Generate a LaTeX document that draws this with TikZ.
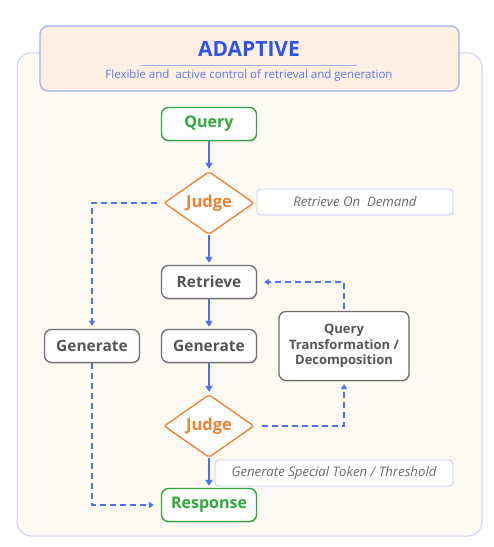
\documentclass[tikz,border=0pt]{standalone}
\usepackage{fontspec}
\setmainfont{Open Sans}
\usetikzlibrary{shapes.geometric,arrows.meta,shadows}
\definecolor{flowblue}{HTML}{4D6FF5}
\definecolor{judgeorange}{HTML}{F07F2E}
\definecolor{termgreen}{HTML}{2FA83A}
\definecolor{procborder}{HTML}{6E6E6E}
\definecolor{proctext}{HTML}{555555}
\definecolor{panelfill}{HTML}{FDF9F3}
\definecolor{panelborder}{HTML}{CBD3F7}
\definecolor{headerfill}{HTML}{FDF0E3}
\definecolor{headerborder}{HTML}{9EAEF2}
\definecolor{titleblue}{HTML}{2D55E8}
\definecolor{subblue}{HTML}{5A76E8}
\definecolor{tagborder}{HTML}{BBC7F5}
\definecolor{tagtext}{HTML}{6A6A6A}
\tikzset{
  softshadow/.style={drop shadow={shadow xshift=0.6bp,shadow yshift=-1.2bp,opacity=0.15,fill=black}},
  termbox/.style={draw=termgreen,line width=1.4bp,fill=white,rounded corners=7bp,minimum width=95bp,minimum height=33bp,inner sep=0,text=termgreen,font=\fontsize{16bp}{18bp}\selectfont\bfseries,softshadow},
  procbox/.style={draw=procborder,line width=1.3bp,fill=white,rounded corners=7bp,minimum width=95bp,minimum height=33bp,inner sep=0,text=proctext,font=\fontsize{15.5bp}{18bp}\selectfont\bfseries,softshadow},
  judgebox/.style={diamond,aspect=1.43,draw=judgeorange,line width=1.3bp,fill=white,rounded corners=2bp,minimum width=90bp,minimum height=63bp,inner sep=0,text=judgeorange,font=\fontsize{16.5bp}{18bp}\selectfont\bfseries},
  tagbox/.style={draw=tagborder,line width=0.8bp,fill=white,rounded corners=4bp,minimum height=26bp,inner sep=0,text=tagtext,font=\fontsize{13.2bp}{15bp}\selectfont\itshape},
  flow/.style={draw=flowblue,line width=2bp,-{Triangle[length=6bp,width=7bp]},shorten >=2bp},
  dflow/.style={draw=flowblue,line width=1.6bp,dash pattern=on 6bp off 4bp,-{Triangle[length=5bp,width=6bp]}}
}
\begin{document}
\begin{tikzpicture}[x=1bp,y=-1bp]
\useasboundingbox (0,0) rectangle (494,547);
\fill[white] (0,0) rectangle (494,547);
\draw[draw=panelborder,fill=panelfill,line width=1bp,rounded corners=14bp] (17,53) rectangle (482,536);
\draw[draw=headerborder,fill=headerfill,line width=1.2bp,rounded corners=8bp] (40,26) rectangle (459,91);
\node[text=titleblue,font=\fontsize{21bp}{24bp}\selectfont\bfseries,inner sep=0] (title) at (249,49) {ADAPTIVE};
\draw[draw=headerborder,line width=0.8bp] (141,65.5) -- (357,65.5);
\node[text=subblue,font=\fontsize{11.5bp}{13bp}\selectfont,inner sep=0] (sub) at (249,75) {Flexible and \ active control of retrieval and generation};

\node[termbox] (query) at (209,124) {Query};
\node[judgebox] (j1) at (209,203) {Judge};
\node[tagbox,minimum width=196bp] (rod) at (355,202) {Retrieve On \ Demand};
\node[procbox] (ret) at (209,282) {Retrieve};
\node[procbox] (gen1) at (92,346) {Generate};
\node[procbox] (gen2) at (209,346) {Generate};
\node[procbox,minimum width=130bp,minimum height=69bp,align=center,font=\fontsize{13bp}{15.5bp}\selectfont\bfseries] (qt) at (344,346) {Query\\Transformation /\\Decomposition};
\node[judgebox] (j2) at (209,426) {Judge};
\node[tagbox,minimum width=238bp] (gst) at (334,473) {Generate Special Token / Threshold};
\node[termbox] (resp) at (209,505) {Response};

\draw[flow] (query) -- (j1);
\draw[flow] (j1) -- (ret);
\draw[flow] (ret) -- (gen2);
\draw[flow] (gen2) -- (j2);
\draw[flow] (j2) -- (resp);

\draw[dflow,shorten <=6bp,shorten >=3bp] (j1.west) -| (gen1.north);
\draw[dflow,shorten >=7bp] (gen1.south) |- (resp.west);
\draw[dflow,shorten <=7bp,shorten >=3bp] (j2.east) -| (qt.south);
\draw[dflow,shorten <=2bp,shorten >=7bp] (qt.north) |- (ret.east);
\end{tikzpicture}
\end{document}
